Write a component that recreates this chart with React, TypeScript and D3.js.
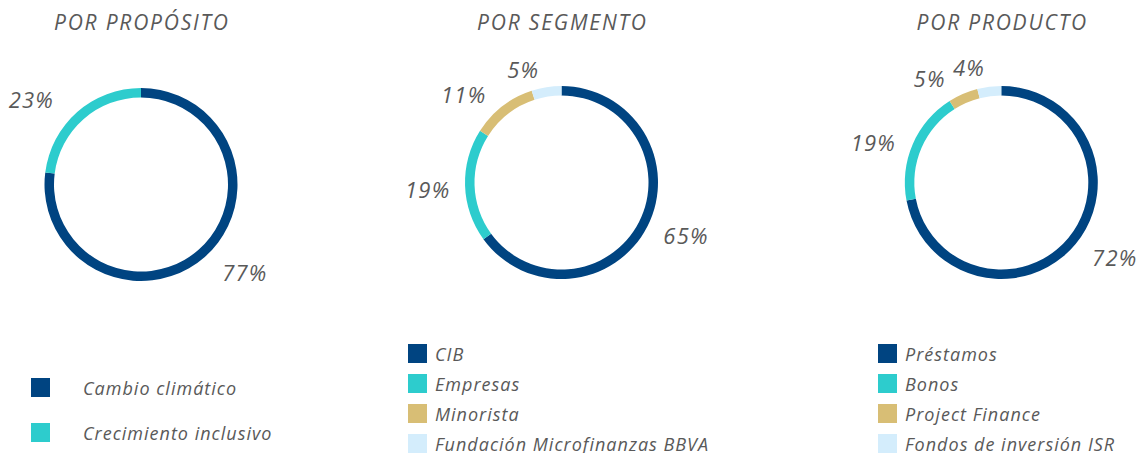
import React from "react";
import * as d3 from "d3";

// ---- Data ----
const proposito = ["Cambio climático", "Crecimiento inclusivo"];
const propositoValues = [77, 23];

const segmento = ["CIB", "Empresas", "Minorista", "Fundación Microfinanzas BBVA"];
const segmentoValues = [65, 19, 11, 5];

const producto = ["Préstamos", "Bonos", "Project Finance", "Fondos de inversión ISR"];
const productoValues = [72, 19, 5, 4];

const titles = ["POR PROPÓSITO", "POR SEGMENTO", "POR PRODUCTO"];

// ---- Styles / layout ----
const palette = ["#004481", "#2DCCCD", "#D8BE75", "#D4EDFC"];
const textColor = "#595959";
const FONT = "'Open Sans', sans-serif";

const W = 1140;
const H = 453;
const outerR = 96.5;
const innerR = 87;
const labelR = 134;
const labelRot = -7; // degrees

type ChartLayout = {
  cx: number;
  cy: number;
  nudges: [number, number][];
  legend: { sx: number; tx: number; y0: number; step: number };
};

const layouts: ChartLayout[] = [
  {
    cx: 141,
    cy: 184.5,
    nudges: [
      [3, -0.5],
      [-10, 4.5],
    ],
    legend: { sx: 31, tx: 83, y0: 378, step: 45 },
  },
  {
    cx: 561.5,
    cy: 182.5,
    nudges: [
      [-2, 8],
      [-2, -13],
      [-4, 8],
      [-2, 16],
    ],
    legend: { sx: 408, tx: 435, y0: 344, step: 30 },
  },
  {
    cx: 1001.3,
    cy: 182.5,
    nudges: [
      [0, 3],
      [0, -2],
      [-4.5, 12],
      [0, 16],
    ],
    legend: { sx: 878, tx: 905, y0: 344, step: 30 },
  },
];

const charts = [
  { names: proposito, values: propositoValues },
  { names: segmento, values: segmentoValues },
  { names: producto, values: productoValues },
];

function Donut({ idx }: { idx: number }) {
  const { names, values } = charts[idx];
  const L = layouts[idx];
  const pie = d3
    .pie<number>()
    .sort(null)
    .value((d) => d)
    .startAngle(0)
    .endAngle(2 * Math.PI);
  const arcs = pie(values);
  const arc = d3
    .arc<d3.PieArcDatum<number>>()
    .innerRadius(innerR)
    .outerRadius(outerR);
  const color = d3.scaleOrdinal<string, string>().domain(names).range(palette);
  const labelFs = 22;
  const sq = 19;
  const titleLS = 1.8;
  const labelLS = 1.2;
  return (
    <g>
      <text
        x={L.cx + titleLS / 2}
        y={30}
        textAnchor="middle"
        fontFamily={FONT}
        fontStyle="italic"
        fontSize={21}
        letterSpacing={titleLS}
        fill={textColor}
      >
        {titles[idx]}
      </text>
      <g transform={`translate(${L.cx},${L.cy})`}>
        {arcs.map((a, i) => (
          <path key={i} d={arc(a) || ""} fill={color(names[i])} />
        ))}
        {arcs.map((a, i) => {
          const mid = (a.startAngle + a.endAngle) / 2 + (labelRot * Math.PI) / 180;
          const x = Math.sin(mid) * labelR + L.nudges[i][0];
          const y = -Math.cos(mid) * labelR + L.nudges[i][1];
          return (
            <text
              key={i}
              x={x + labelLS / 2}
              y={y + labelFs * 0.357}
              textAnchor="middle"
              fontFamily={FONT}
              fontStyle="italic"
              fontSize={labelFs}
              letterSpacing={labelLS}
              fill={textColor}
            >
              {`${values[i]}%`}
            </text>
          );
        })}
      </g>
      <g>
        {names.map((n, i) => {
          const y = L.legend.y0 + i * L.legend.step;
          return (
            <g key={n}>
              <rect x={L.legend.sx} y={y} width={sq} height={sq} fill={color(n)} />
              <text
                x={L.legend.tx}
                y={y + 17.3}
                fontFamily={FONT}
                fontStyle="italic"
                fontSize={18}
                letterSpacing={1}
                fill={textColor}
              >
                {n}
              </text>
            </g>
          );
        })}
      </g>
    </g>
  );
}

export default function App() {
  return (
    <svg
      width={W}
      height={H}
      viewBox={`0 0 ${W} ${H}`}
      style={{ position: "absolute", left: 0, top: 0, background: "#fff" }}
    >
      <rect width={W} height={H} fill="#fff" />
      <Donut idx={0} />
      <Donut idx={1} />
      <Donut idx={2} />
    </svg>
  );
}
